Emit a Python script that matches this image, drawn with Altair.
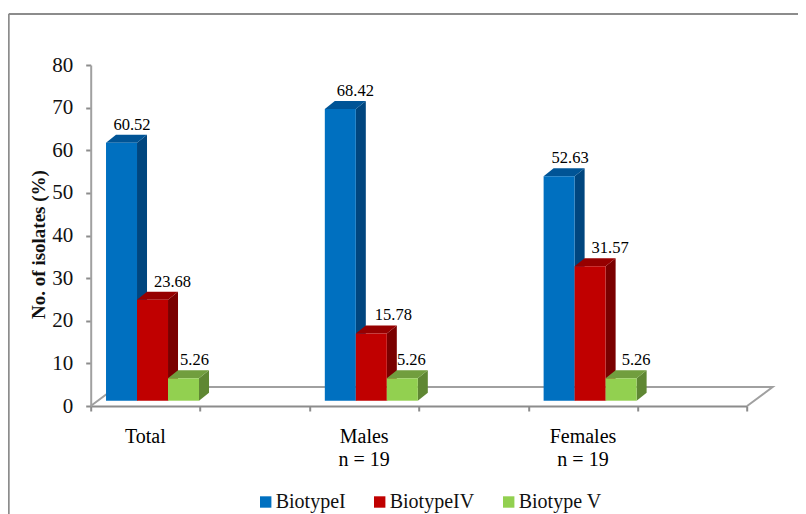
import altair as alt
import pandas as pd

groups = ["Total", "Males", "Females"]
sublabels = ["", "n = 19", "n = 19"]
series = ["BiotypeI", "BiotypeIV", "Biotype V"]
values = {
    "BiotypeI": [60.52, 68.42, 52.63],
    "BiotypeIV": [23.68, 15.78, 31.57],
    "Biotype V": [5.26, 5.26, 5.26],
}
front = ["#0070C0", "#C00000", "#92D050"]
side = ["#00467F", "#7A0000", "#5F8733"]
top = ["#005496", "#960000", "#719E3E"]
label_nudge = {
    "BiotypeI": [10.5, 15, 11],
    "BiotypeIV": [20, 22, 20],
    "Biotype V": [11, 9, 15],
}

FONT = "Liberation Serif"
W, H = 656.4, 341
PX_X = 6 / W
PX_Y = 80 / H
START, BW, LIFT = 0.14, 31 * PX_X, 5.3 * PX_Y
DX, DY = 10 * PX_X, 8 * PX_Y
FLOOR_DX, FLOOR_DY = 25.5 * PX_X, 19 * PX_Y

xs = alt.Scale(domain=[0, 6], nice=False, zero=False)
ys = alt.Scale(domain=[0, 80], nice=False, zero=False)
cs = alt.Scale(domain=series, range=front)

fr, sd, tp, lab = [], [], [], []
for si, s in enumerate(series):
    for gi, v in enumerate(values[s]):
        x0 = gi * 2 + START + si * BW
        x1 = x0 + BW
        t = v + LIFT
        fr.append(dict(s=s, x=x0, x2=x1, y=t, y2=LIFT))
        sd += [dict(s=s, g=gi, x=x1, y=t, y2=LIFT), dict(s=s, g=gi, x=x1 + DX, y=t + DY, y2=LIFT + DY)]
        tp += [dict(s=s, g=gi, y=t, x=x0, x2=x1), dict(s=s, g=gi, y=t + DY, x=x0 + DX, x2=x1 + DX)]
        lab.append(dict(s=s, t=f"{v:.2f}", x=(x0 + x1) / 2 + label_nudge[s][gi] * PX_X, y=t + DY))
fr, sd, tp, lab = map(pd.DataFrame, (fr, sd, tp, lab))

X = alt.X("x:Q", scale=xs, axis=None)
Y = alt.Y("y:Q", scale=ys, axis=None)

base_axes = alt.Chart(pd.DataFrame({"x": [0, 6], "y": [0, 0]})).mark_line(opacity=0).encode(
    x=alt.X("x:Q", scale=xs, title=None, axis=alt.Axis(
        values=[0, 1, 2, 3, 4, 5, 6], labels=False, grid=False, domainColor="#8c8c8c", domainWidth=2,
        tickColor="#8c8c8c", tickWidth=2, tickSize=5)),
    y=alt.Y("y:Q", scale=ys, title="No. of isolates (%)", axis=alt.Axis(
        values=list(range(0, 81, 10)), grid=False, domainColor="#a0a0a0", domainWidth=2,
        tickColor="#8c8c8c", tickWidth=2, tickSize=5, labelFont=FONT, labelFontSize=21,
        labelColor="#111111", labelPadding=13, titleFont=FONT, titleFontSize=19, titleFontWeight="bold",
        titleColor="#111111", titleX=-42, titleY=179)),
)

floor = pd.DataFrame([
    dict(o=0, x=0, y=0), dict(o=1, x=FLOOR_DX, y=FLOOR_DY),
    dict(o=2, x=6 + FLOOR_DX, y=FLOOR_DY), dict(o=3, x=6, y=0),
])
floor_line = alt.Chart(floor).mark_line(color="#a0a0a0", strokeWidth=2).encode(x=X, y=Y, order="o:Q")

frame_top = alt.Chart(pd.DataFrame({"a": [0]})).mark_rule(color="#8c8c8c", strokeWidth=2).encode(
    x=alt.value(-82), x2=alt.value(W + 52), y=alt.value(-51))
frame_left = alt.Chart(pd.DataFrame({"a": [0]})).mark_rule(color="#8c8c8c", strokeWidth=2).encode(
    x=alt.value(-82), y=alt.value(-51), y2=alt.value(H + 110))

layers = [base_axes, floor_line, frame_top, frame_left]
for si, s in enumerate(series):
    layers.append(alt.Chart(sd[sd.s == s]).mark_area(color=side[si]).encode(
        x=X, y=Y, y2="y2:Q", detail="g:N"))
    layers.append(alt.Chart(tp[tp.s == s]).mark_area(color=top[si], orient="horizontal").encode(
        y=Y, x=X, x2="x2:Q", detail="g:N"))
    layers.append(alt.Chart(fr[fr.s == s]).mark_rect().encode(
        x=X, x2="x2:Q", y=Y, y2="y2:Q",
        color=alt.Color("s:N", scale=cs, legend=alt.Legend(
            title=None, orient="none", direction="horizontal", legendX=165, legendY=427,
            symbolType="square", symbolSize=130, symbolStrokeWidth=0, labelFont=FONT, labelFontSize=20,
            labelColor="#111111", columnPadding=24, labelOffset=0))))

layers.append(alt.Chart(lab).mark_text(font=FONT, fontSize=16.5, color="#000000", baseline="alphabetic", dy=-5).encode(
    x=X, y=Y, text="t:N"))

cats = pd.DataFrame({"x": [0.5, 2.5, 4.5], "name": groups, "sub": sublabels})
layers.append(alt.Chart(cats).mark_text(font=FONT, fontSize=20, color="#000000").encode(
    x=X, y=alt.value(H + 31), text="name:N"))
layers.append(alt.Chart(cats).mark_text(font=FONT, fontSize=20, color="#000000").encode(
    x=X, y=alt.value(H + 54), text="sub:N"))

chart = alt.layer(*layers).resolve_scale(color="shared").resolve_axis(x="independent", y="independent").properties(
    width=W, height=H,
    padding={"left": 82.7, "top": 57, "right": 50.9, "bottom": 108},
    autosize=alt.AutoSizeParams(type="none"),
    background="white",
).configure_view(stroke=None)

chart.save("out.html", embed_options={"renderer": "svg", "actions": False})
